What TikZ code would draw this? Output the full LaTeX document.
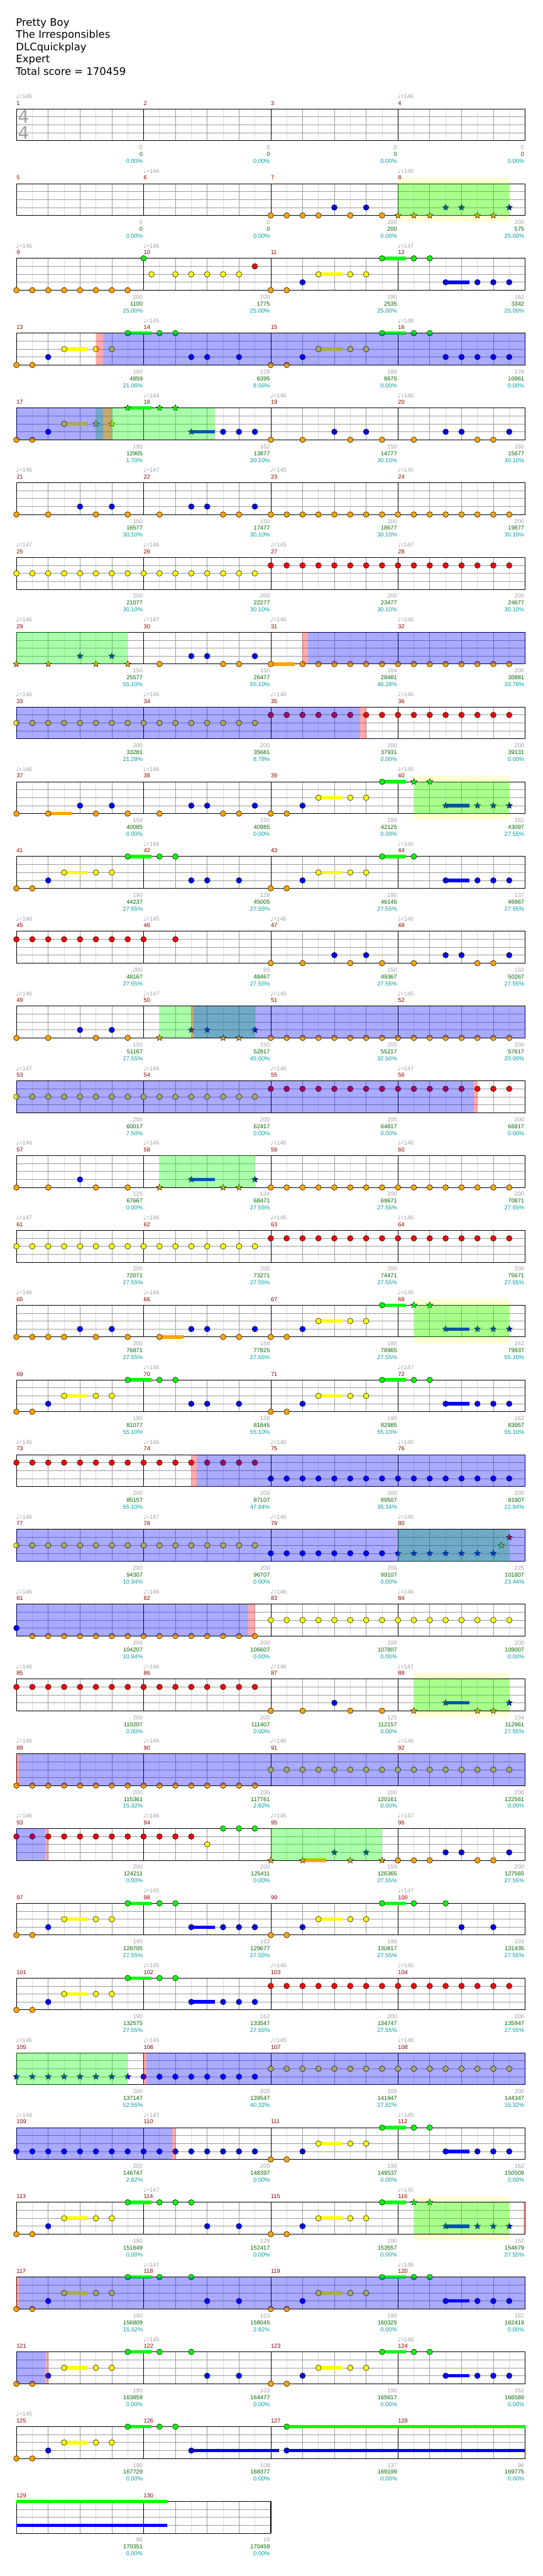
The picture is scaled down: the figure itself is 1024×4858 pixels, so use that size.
\documentclass[tikz,border=0pt]{standalone}
\usepackage{fontspec}
\setmainfont{DejaVu Sans}
\newfontfamily\smallfont{Liberation Sans}
\newfontfamily\symfont{DejaVu Sans}
\usetikzlibrary{shapes.geometric}

\definecolor{lane0}{HTML}{00FF00}
\definecolor{lane1}{HTML}{FF0000}
\definecolor{lane2}{HTML}{FFFF00}
\definecolor{lane3}{HTML}{0000FF}
\definecolor{lane4}{HTML}{FFA500}
\definecolor{gridgray}{HTML}{9C9C9C}
\definecolor{gridlight}{HTML}{DCDCDC}
\definecolor{txtgray}{HTML}{A0A0A0}
\definecolor{txtgreen}{HTML}{006400}
\definecolor{txtcyan}{HTML}{009B9B}
\definecolor{barred}{HTML}{8B0000}
\definecolor{spband}{HTML}{FFFFD2}

\tikzset{
  lbl/.style={font=\smallfont\fontsize{11}{13}\selectfont, inner sep=0pt},
  barnum/.style={lbl, text=barred, anchor=west},
  tempo/.style={lbl, text=txtgray, anchor=west},
  sgray/.style={lbl, text=txtgray, anchor=east},
  sgreen/.style={lbl, text=txtgreen, anchor=east},
  scyan/.style={lbl, text=txtcyan, anchor=east},
  notec/.style={draw=black, line width=0.6pt},
  starnote/.style={star, star points=5, star point ratio=2.3, draw=black,
    line width=0.5pt, inner sep=0pt, minimum size=12.5pt},
}

\begin{document}
\begin{tikzpicture}[x=1pt, y=-1pt,
  declare function={px(\p)=31+30*\p; ry(\k)=205.3+141*(\k-1);}]
\useasboundingbox (0,0) rectangle (1024,4858);

% header
\foreach \txt [count=\i] in {Pretty Boy, The Irresponsibles, DLCquickplay, Expert, Total score = 170459}
  \node[anchor=base west, inner sep=0pt, font=\fontsize{19.5}{23}\selectfont] (hd\i) at (30,{49.3+23*(\i-1)}) {\txt};

% star power bands behind the staff
\foreach \k/\pa/\pb in {2/24/31, 10/25/31, 17/25/31, 22/25/31, 29/25/31}{
  \pgfmathsetmacro\T{ry(\k)}
  \fill[spband] ({px(\pa)},{\T-10.5}) rectangle ({px(\pb)},{\T+71.5});
}

% staves
\foreach \k in {1,...,33}{
  \pgfmathsetmacro\T{ry(\k)}
  \pgfmathtruncatemacro\nb{\k<33 ? 31 : 15}
  \pgfmathsetmacro\xe{\k<33 ? 991 : 511}
  \foreach \i in {1,3,...,\nb} \draw[gridlight, line width=0.8pt] ({px(\i)},\T) -- ++(0,60);
  \foreach \i in {2,4,...,\nb} \draw[gridgray, line width=0.8pt] ({px(\i)},\T) -- ++(0,60);
  \foreach \j in {1,2,3} \draw[gridgray, line width=0.8pt] (31,{\T+15*\j}) -- (\xe,{\T+15*\j});
  \foreach \i in {8,16,...,\nb} \draw[black, line width=0.8pt] ({px(\i)},\T) -- ++(0,60);
  \draw[black, line width=1.1pt] (31,\T) rectangle (\xe,{\T+60});
}
\node[inner sep=0pt, text=txtgray, font=\fontsize{33}{33}\selectfont] (tsa) at (44.5,220.3) {4};
\node[inner sep=0pt, text=txtgray, font=\fontsize{33}{33}\selectfont] (tsb) at (44.5,250.3) {4};

% sustains
\foreach \k/\pa/\pb/\ln in {
  3/19/20.5/2, 3/23/24.5/0, 3/27/28.5/3,
  4/3/4.5/2, 4/7/8.5/0, 4/19/20.5/2, 4/23/24.5/0,
  5/3/4.5/2, 5/7/8.5/0, 5/11/12.5/3, 8/16/17.5/4,
  10/2/3.5/4, 10/19/20.5/2, 10/23/24.5/0, 10/27/28.5/3,
  11/3/4.5/2, 11/7/8.5/0, 11/19/20.5/2, 11/23/24.5/0, 11/27/28.5/3,
  15/11/12.5/3,
  17/9/10.5/4, 17/19/20.5/2, 17/23/24.5/0, 17/27/28.5/3,
  18/3/4.5/2, 18/7/8.5/0, 18/19/20.5/2, 18/23/24.5/0, 18/27/28.5/3,
  22/27/28.5/3, 24/18/19.5/4,
  25/3/4.5/2, 25/7/8.5/0, 25/11/12.5/3, 25/19/20.5/2, 25/23/24.5/0,
  26/3/4.5/2, 26/7/8.5/0, 26/11/12.5/3,
  28/19/20.5/2, 28/23/24.5/0, 28/27/28.5/3,
  29/3/4.5/2, 29/7/8.5/0, 29/19/20.5/2, 29/23/24.5/0, 29/27/28.5/3,
  30/3/4.5/2, 30/7/8.5/0, 30/19/20.5/2, 30/23/24.5/0, 30/27/28.5/3,
  31/3/4.5/2, 31/7/8.5/0, 31/19/20.5/2, 31/23/24.5/0, 31/27/28.5/3,
  32/3/4.5/2, 32/7/8.5/0, 32/11/16.5/3, 32/17/32/0, 32/17/32/3,
  33/0/9.5/0, 33/0/9.5/3}{
  \pgfmathsetmacro\T{ry(\k)}
  \fill[lane\ln] ({px(\pa)},{\T+15*\ln-3.2}) rectangle ({px(\pb)},{\T+15*\ln+3.2});
}

% notes
\foreach \k/\pa/\pb/\ln in {
  2/16/19/4, 2/20/20/3, 2/21/21/4, 2/22/22/3, 2/23/23/4,
  3/0/7/4, 3/8/8/0, 3/10/14/2, 3/15/15/1, 3/16/17/4, 3/18/18/3, 3/19/19/2, 3/21/22/2, 3/23/23/0, 3/25/26/0, 3/27/27/3, 3/29/31/3,
  4/0/1/4, 4/2/2/3, 4/3/3/2, 4/5/6/2, 4/7/7/0, 4/9/10/0, 4/11/12/3, 4/14/14/3, 4/16/17/4, 4/18/18/3, 4/19/19/2, 4/21/22/2, 4/23/23/0, 4/25/26/0, 4/27/31/3,
  5/0/1/4, 5/2/2/3, 5/3/3/2, 5/13/15/3, 5/16/16/4, 5/18/18/4, 5/20/20/3, 5/21/21/4, 5/22/22/3, 5/23/23/4, 5/25/25/4, 5/27/28/3, 5/29/30/4, 5/31/31/3,
  6/0/0/4, 6/2/2/4, 6/4/4/3, 6/5/5/4, 6/6/6/3, 6/7/7/4, 6/9/9/4, 6/11/12/3, 6/13/14/4, 6/15/15/3, 6/16/31/4,
  7/0/15/2, 7/16/31/1,
  8/9/9/4, 8/11/12/3, 8/13/14/4, 8/15/15/3, 8/16/16/4, 8/18/31/4,
  9/0/15/2, 9/16/31/1,
  10/0/0/4, 10/2/2/4, 10/4/4/3, 10/5/5/4, 10/6/6/3, 10/7/7/4, 10/9/9/4, 10/11/12/3, 10/13/14/4, 10/15/15/3, 10/16/17/4, 10/18/18/3, 10/19/19/2, 10/21/22/2, 10/23/23/0,
  11/0/1/4, 11/2/2/3, 11/3/3/2, 11/5/6/2, 11/7/7/0, 11/9/10/0, 11/11/12/3, 11/14/14/3, 11/16/17/4, 11/18/18/3, 11/19/19/2, 11/21/22/2, 11/23/23/0, 11/25/25/0, 11/27/27/3, 11/29/31/3,
  12/0/8/1, 12/10/10/1, 12/16/16/4, 12/18/18/4, 12/20/20/3, 12/21/21/4, 12/22/22/3, 12/23/23/4, 12/25/25/4, 12/27/28/3, 12/29/30/4, 12/31/31/3,
  13/0/0/4, 13/2/2/4, 13/4/4/3, 13/5/5/4, 13/6/6/3, 13/7/7/4, 13/16/31/4,
  14/0/15/2, 14/16/31/1,
  15/0/0/4, 15/2/2/4, 15/4/4/3, 15/5/5/4, 15/7/7/4, 15/16/31/4,
  16/0/15/2, 16/16/31/1,
  17/0/3/4, 17/4/4/3, 17/5/5/4, 17/6/6/3, 17/7/7/4, 17/9/9/4, 17/11/12/3, 17/13/14/4, 17/15/15/3, 17/16/17/4, 17/18/18/3, 17/19/19/2, 17/21/22/2, 17/23/23/0,
  18/0/1/4, 18/2/2/3, 18/3/3/2, 18/5/6/2, 18/7/7/0, 18/9/10/0, 18/11/12/3, 18/14/14/3, 18/16/17/4, 18/18/18/3, 18/19/19/2, 18/21/22/2, 18/23/23/0, 18/25/26/0, 18/27/27/3, 18/29/31/3,
  19/0/15/1, 19/16/31/3,
  20/0/15/2, 20/16/23/3,
  21/0/0/3, 21/1/15/4, 21/16/31/2,
  22/0/15/1, 22/16/16/4, 22/18/18/4, 22/20/20/3, 22/21/21/4, 22/23/23/4,
  23/0/15/4, 23/16/31/2,
  24/0/11/1, 24/12/12/2, 24/13/15/0, 24/24/26/4, 24/27/28/3, 24/29/30/4, 24/31/31/3,
  25/0/1/4, 25/2/2/3, 25/3/3/2, 25/5/6/2, 25/7/7/0, 25/9/10/0, 25/11/11/3, 25/13/15/3, 25/16/17/4, 25/18/18/3, 25/19/19/2, 25/21/22/2, 25/23/23/0, 25/25/25/0, 25/27/27/0, 25/28/28/3, 25/30/30/3,
  26/0/1/4, 26/2/2/3, 26/3/3/2, 26/5/6/2, 26/7/7/0, 26/9/10/0, 26/11/11/3, 26/13/15/3, 26/16/31/1,
  27/8/15/3, 27/16/31/2,
  28/0/15/3, 28/16/17/4, 28/18/18/3, 28/19/19/2, 28/21/22/2, 28/23/23/0, 28/25/26/0, 28/27/27/3, 28/29/31/3,
  29/0/1/4, 29/2/2/3, 29/3/3/2, 29/5/6/2, 29/7/7/0, 29/9/11/0, 29/12/12/3, 29/14/14/3, 29/16/17/4, 29/18/18/3, 29/19/19/2, 29/21/22/2, 29/23/23/0,
  30/0/1/4, 30/2/2/3, 30/3/3/2, 30/5/6/2, 30/7/7/0, 30/9/9/0, 30/11/11/0, 30/12/12/3, 30/14/14/3, 30/16/17/4, 30/18/18/3, 30/19/19/2, 30/21/22/2, 30/23/23/0, 30/25/26/0, 30/27/27/3, 30/29/31/3,
  31/0/1/4, 31/2/2/3, 31/3/3/2, 31/5/6/2, 31/7/7/0, 31/9/9/0, 31/11/11/0, 31/12/12/3, 31/14/14/3, 31/16/17/4, 31/18/18/3, 31/19/19/2, 31/21/22/2, 31/23/23/0, 31/25/26/0, 31/27/27/3, 31/29/31/3,
  32/0/1/4, 32/2/2/3, 32/3/3/2, 32/5/6/2, 32/7/7/0, 32/9/10/0, 32/11/11/3, 32/17/17/0, 32/17/17/3}{
  \pgfmathsetmacro\T{ry(\k)}
  \foreach \p in {\pa,...,\pb}
    \filldraw[notec, fill=lane\ln] ({px(\p)},{\T+15*\ln}) circle (5.3pt);
}
\filldraw[notec, fill=lane2] ({px(8.5)},{ry(3)+30}) circle (5.3pt);

% star notes
\foreach \k/\pa/\pb/\ln in {
  2/24/26/4, 2/27/28/3, 2/29/30/4, 2/31/31/3,
  5/5/6/2, 5/7/7/0, 5/9/10/0, 5/11/11/3,
  8/0/0/4, 8/2/2/4, 8/4/4/3, 8/5/5/4, 8/6/6/3, 8/7/7/4,
  10/25/26/0, 10/27/27/3, 10/29/31/3,
  13/9/9/4, 13/11/12/3, 13/13/14/4, 13/15/15/3,
  15/9/9/4, 15/11/11/3, 15/13/14/4, 15/15/15/3,
  17/25/26/0, 17/27/27/3, 17/29/31/3,
  20/24/30/3, 20/31/31/1,
  22/25/25/4, 22/27/27/3, 22/29/30/4, 22/31/31/3,
  24/16/16/4, 24/18/18/4, 24/20/20/3, 24/21/21/4, 24/22/22/3, 24/23/23/4,
  27/0/7/3,
  29/25/26/0, 29/27/27/3, 29/29/31/3}{
  \pgfmathsetmacro\T{ry(\k)}
  \foreach \p in {\pa,...,\pb}
    \node[starnote, fill=lane\ln] (st\k-\p) at ({px(\p)},{\T+15*\ln}) {};
}
\node[starnote, fill=lane2] (sthalf) at ({px(30.5)},{ry(20)+30}) {};

% overdrive, phrase and miss regions
\foreach \k/\pa/\pb in {2/24/31, 5/5/12.5, 8/0/7, 10/25/31, 13/9/15, 15/9/15, 17/25/31,
  20/24/31, 22/25/31, 24/16/23, 27/0/7, 29/25/31}{
  \pgfmathsetmacro\T{ry(\k)}
  \fill[lane0, fill opacity=0.333] ({px(\pa)},\T) rectangle ({px(\pb)},{\T+60});
}
\foreach \k/\pa/\pb in {4/5.47/32, 5/0/5.47, 8/18.34/32, 9/0/21.6, 13/11.13/32, 14/0/28.78,
  19/11.33/32, 20/0/32, 21/0/14.6, 23/0.14/32, 24/0/1.8, 27/8.17/32, 28/0/9.8,
  30/0.14/32, 31/0/1.8}{
  \pgfmathsetmacro\T{ry(\k)}
  \fill[lane3, fill opacity=0.333] ({px(\pa)},\T) rectangle ({px(\pb)},{\T+60});
}
\foreach \k/\pa/\pb in {4/5/5.47, 5/5.47/6, 8/18/18.34, 9/21.6/22, 13/11/11.13, 14/28.78/29,
  19/11/11.33, 21/14.6/15, 23/0/0.14, 24/1.8/2, 27/8/8.17, 28/9.8/10, 29/31.9/32,
  30/0/0.14, 31/1.8/2}{
  \pgfmathsetmacro\T{ry(\k)}
  \fill[lane1, fill opacity=0.333] ({px(\pa)},\T) rectangle ({px(\pb)},{\T+60});
}

% measure numbers
\foreach \m in {1,...,130}{
  \pgfmathsetmacro\xm{31+240*mod(\m-1,4)}
  \pgfmathsetmacro\T{205.3+141*floor((\m-1)/4)}
  \node[barnum] (mn\m) at (\xm,{\T-11}) {\m};
}

% tempo marks
\foreach \m/\bpm in {1/146, 4/146, 6/146, 8/146, 9/146, 10/146, 12/147, 14/145, 16/148, 18/144, 19/146,
  20/146, 21/146, 22/147, 23/145, 24/145, 25/147, 26/146, 27/145, 28/147, 29/146, 30/147,
  31/146, 32/146, 33/146, 34/146, 35/146, 36/146, 37/146, 38/146, 40/146, 42/146, 44/146,
  45/146, 46/145, 47/146, 48/146, 49/146, 50/147, 51/145, 52/145, 53/147, 54/146, 55/145,
  56/147, 57/146, 58/146, 59/146, 60/146, 61/147, 62/146, 63/146, 64/146, 65/146, 66/146,
  68/146, 70/146, 72/147, 73/145, 74/146, 75/146, 76/146, 77/145, 78/147, 79/146, 80/146,
  81/146, 82/146, 83/146, 84/146, 85/146, 86/146, 87/146, 88/147, 89/146, 90/146, 91/146,
  92/146, 93/146, 94/146, 95/145, 96/147, 98/145, 100/147, 102/145, 103/146, 104/146,
  105/146, 106/146, 107/145, 108/148, 109/144, 110/147, 112/145, 114/147, 116/145,
  118/147, 120/146, 122/145, 124/148, 125/145}{
  \pgfmathsetmacro\xm{31+240*mod(\m-1,4)}
  \pgfmathsetmacro\T{205.3+141*floor((\m-1)/4)}
  \node[tempo] (tp\m) at ({\xm-1},{\T-24}) {{\symfont\fontsize{12}{13}\selectfont ♩}=\bpm};
}

% scores per measure
\foreach \m/\ga/\gb/\gc in {
  1/0/0/0.00, 2/0/0/0.00, 3/0/0/0.00, 4/0/0/0.00,
  5/0/0/0.00, 6/0/0/0.00, 7/200/200/0.00, 8/200/575/25.00,
  9/200/1100/25.00, 10/200/1775/25.00, 11/190/2535/25.00, 12/162/3342/25.00,
  13/190/4859/21.06, 14/128/6395/8.56, 15/190/8675/0.00, 16/178/10961/0.00,
  17/190/12905/1.70, 18/162/13877/30.10, 19/150/14777/30.10, 20/150/15677/30.10,
  21/150/16577/30.10, 22/150/17477/30.10, 23/200/18677/30.10, 24/200/19877/30.10,
  25/200/21077/30.10, 26/200/22277/30.10, 27/200/23477/30.10, 28/200/24677/30.10,
  29/150/25577/55.10, 30/150/26477/55.10, 31/184/28481/46.28, 32/200/30881/33.78,
  33/200/33281/21.28, 34/200/35681/8.78, 35/200/37931/0.00, 36/200/39131/0.00,
  37/159/40085/0.00, 38/150/40985/0.00, 39/190/42125/0.00, 40/162/43097/27.55,
  41/190/44237/27.55, 42/128/45005/27.55, 43/190/46145/27.55, 44/137/46967/27.55,
  45/200/48167/27.55, 46/50/48467/27.55, 47/150/49367/27.55, 48/150/50267/27.55,
  49/150/51167/27.55, 50/150/52817/45.00, 51/200/55217/32.50, 52/200/57617/20.00,
  53/200/60017/7.50, 54/200/62417/0.00, 55/200/64817/0.00, 56/200/66917/0.00,
  57/125/67667/0.00, 58/134/68471/27.55, 59/200/69671/27.55, 60/200/70871/27.55,
  61/200/72071/27.55, 62/200/73271/27.55, 63/200/74471/27.55, 64/200/75671/27.55,
  65/200/76871/27.55, 66/159/77825/27.55, 67/190/78965/27.55, 68/162/79937/55.10,
  69/190/81077/55.10, 70/128/81845/55.10, 71/190/82985/55.10, 72/162/83957/55.10,
  73/200/85157/55.10, 74/200/87107/47.84, 75/200/89507/35.34, 76/200/91907/22.84,
  77/200/94307/10.34, 78/200/96707/0.00, 79/200/99107/0.00, 80/225/101807/23.44,
  81/200/104207/10.94, 82/200/106607/0.00, 83/200/107807/0.00, 84/200/109007/0.00,
  85/200/110207/0.00, 86/200/111407/0.00, 87/125/112157/0.00, 88/134/112961/27.55,
  89/200/115361/15.32, 90/200/117761/2.82, 91/200/120161/0.00, 92/200/122561/0.00,
  93/200/124211/0.00, 94/200/125411/0.00, 95/159/126365/27.55, 96/200/127565/27.55,
  97/190/128705/27.55, 98/162/129677/27.55, 99/190/130817/27.55, 100/103/131435/27.55,
  101/190/132575/27.55, 102/162/133547/27.55, 103/200/134747/27.55, 104/200/135947/27.55,
  105/200/137147/52.55, 106/200/139547/40.32, 107/200/141947/27.82, 108/200/144347/15.32,
  109/200/146747/2.82, 110/200/148397/0.00, 111/190/149537/0.00, 112/162/150509/0.00,
  113/190/151649/0.00, 114/128/152417/0.00, 115/190/153557/0.00, 116/162/154679/27.55,
  117/190/156809/15.32, 118/103/158045/2.82, 119/190/160325/0.00, 120/162/162419/0.00,
  121/190/163859/0.00, 122/103/164477/0.00, 123/190/165617/0.00, 124/162/166589/0.00,
  125/190/167729/0.00, 126/108/168377/0.00, 127/137/169199/0.00, 128/96/169775/0.00,
  129/96/170351/0.00, 130/18/170459/0.00}{
  \pgfmathsetmacro\xm{31+240*mod(\m-1,4)+240-1.5}
  \pgfmathsetmacro\T{205.3+141*floor((\m-1)/4)}
  \node[sgray] (sa\m) at (\xm,{\T+72.7}) {\ga};
  \node[sgreen] (sb\m) at (\xm,{\T+85.7}) {\gb};
  \node[scyan] (sc\m) at (\xm,{\T+98.7}) {\gc\%};
}
\end{tikzpicture}
\end{document}
